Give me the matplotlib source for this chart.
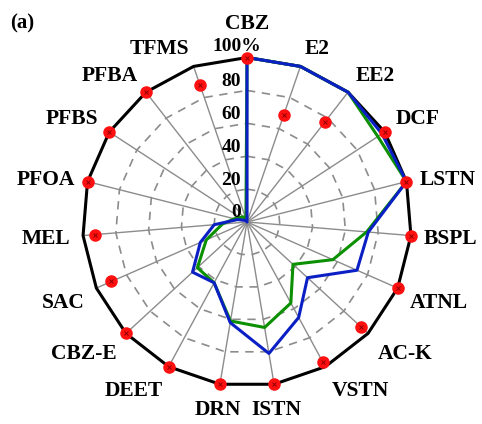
import numpy as np
import matplotlib
matplotlib.use("Agg")
import matplotlib.pyplot as plt

# ── data ────────────────────────────────────────────────────────────────
categories = ["CBZ", "E2", "EE2", "DCF", "LSTN", "BSPL", "ATNL", "AC-K",
              "VSTN", "ISTN", "DRN", "DEET", "CBZ-E", "SAC", "MEL",
              "PFOA", "PFBS", "PFBA", "TFMS"]
frame_vals = [100] * len(categories)
red_vals   = [100, 69, 77, 100, 100, 100, 100, 94, 97, 100, 100, 100, 100,
              90, 93, 100, 100, 100, 88]
blue_vals  = [100, 100, 100, 98, 100, 74, 73, 50, 66, 81, 62, 42, 45,
              31, 20, 6, 2, 1, 0]
green_vals = [100, 100, 100, 95, 100, 73, 57, 38, 56, 65, 61, 42, 41,
              27, 15, 8, 5, 4, 2]
ring_vals  = [20, 40, 60, 80]
tick_vals  = [0, 20, 40, 60, 80]
tick_labels = ["0", "20", "40", "60", "80"]

plt.rcParams["font.family"] = ["Liberation Serif", "DejaVu Serif"]
plt.rcParams["font.weight"] = "bold"

n = len(categories)
theta = np.arange(n) * 2 * np.pi / n   # clockwise from top


def xy(vals, close=True):
    v = np.asarray(vals, dtype=float)
    x = v * np.sin(theta)
    y = v * np.cos(theta)
    if close:
        x = np.append(x, x[0])
        y = np.append(y, y[0])
    return x, y


fig = plt.figure(figsize=(4.82, 4.24), dpi=100)
ax = fig.add_axes([0, 0, 1, 1])
scale = 1.645  # px per unit
ax.set_xlim(-247 / scale, (482 - 247) / scale)
ax.set_ylim(-(424 - 222) / scale, 222 / scale)
ax.set_aspect("equal")
ax.axis("off")

# spokes
for t in theta:
    ax.plot([0, 100 * np.sin(t)], [0, 100 * np.cos(t)], color="#8c8c8c",
            lw=1.0, zorder=1)

# dashed polygon rings
for r in ring_vals:
    x, y = xy([r] * n)
    ax.plot(x, y, color="#8c8c8c", lw=1.2, ls=(0, (5, 4)), zorder=1)

# outer frame
x, y = xy(frame_vals)
ax.plot(x, y, color="black", lw=2.2, zorder=2)

# series
x, y = xy(green_vals)
ax.plot(x, y, color="#0a9000", lw=2.2, zorder=3)
x, y = xy(blue_vals)
ax.plot(x, y, color="#0a1fc4", lw=2.2, zorder=4)

# red markers
x, y = xy(red_vals, close=False)
ax.plot(x, y, ls="none", marker="o", ms=8, mfc="#ff1010", mec="#ff1010",
        zorder=5)
ax.plot(x, y, ls="none", marker="x", ms=3.5, mew=0.7, color="#900000",
        zorder=6)

# radial tick labels
INK = 1.2  # va="center" sits a bit high for caps/digits
for v, lab in zip(tick_vals, tick_labels):
    ax.text(-3.5, v + 6.7 - INK, lab, ha="right", va="center", fontsize=14,
            fontweight="bold")
ax.text(-6.1, 100 + 7.9 - INK, "100%", ha="center", va="center",
        fontsize=14, fontweight="bold")

# category labels: anchored at a fixed radius, aligned by quadrant
R_LAB = 108
HALF_H = 4.5
for t, lab in zip(theta, categories):
    s, c = np.sin(t), np.cos(t)
    x0, y0 = R_LAB * s, R_LAB * c
    ha = "left" if s > 0.3 else ("right" if s < -0.3 else "center")
    if c > 0.3:
        dy = HALF_H
    elif c < -0.3:
        dy = -HALF_H - 3.5 * (abs(c) - 0.35)
    else:
        dy = 0
    if c > 0.99:          # top label sits above the "100%" tick label
        dy += 9
    ax.text(x0, y0 + dy - INK, lab, ha=ha, va="center", fontsize=15.5,
            fontweight="bold")

fig.text(22 / 482, 1 - 23 / 424, "(a)", ha="center", va="center",
         fontsize=15, fontweight="bold")

fig.savefig("out.png", dpi=100)
